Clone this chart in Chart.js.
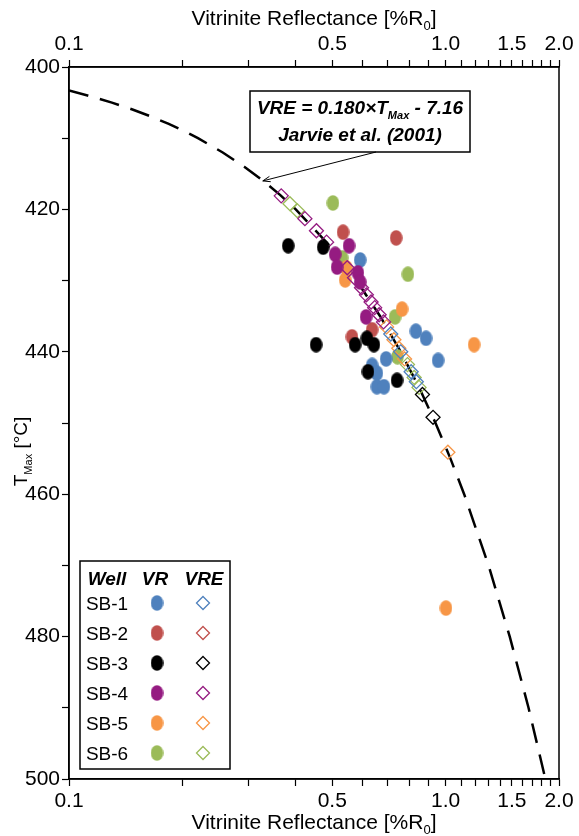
<!DOCTYPE html>
<html>
<head>
<meta charset="utf-8">
<script src="https://cdn.jsdelivr.net/npm/chart.js@4.4.1/dist/chart.umd.min.js"></script>
<style>
  html, body { margin: 0; padding: 0; background: #fff; }
  #wrap { position: relative; width: 579px; height: 836px; }
</style>
</head>
<body>
<div id="wrap"><canvas id="chart" width="579" height="836"></canvas></div>
<script>
'use strict'

// axis ticks
var xTicks = [0.1, 0.2, 0.3, 0.4, 0.5, 0.6, 0.7, 0.8, 0.9, 1.0, 1.1, 1.2, 1.3, 1.4, 1.5, 1.6, 1.7, 1.8, 1.9, 2.0]
var xLabelValues = [0.1, 0.5, 1.0, 1.5, 2.0]
var xLabels = ['0.1', '0.5', '1.0', '1.5', '2.0']
var yLabelValues = [400, 420, 440, 460, 480, 500]

var wells = ['SB-1', 'SB-2', 'SB-3', 'SB-4', 'SB-5', 'SB-6']
var wellColors = ['#4f81bd', '#c0504d', '#000000', '#951b81', '#f79646', '#9bbb59']

// measured vitrinite reflectance (VR) vs Tmax
var sb1Ro = [0.593, 0.834, 0.887, 0.955, 0.695, 0.638, 0.657, 0.657, 0.686]
var sb1Tmax = [427.1, 437.1, 438.1, 441.2, 441.0, 441.9, 443.0, 444.9, 444.9]
var sb2Ro = [0.534, 0.739, 0.564, 0.638]
var sb2Tmax = [423.2, 424.0, 437.9, 436.9]
var sb3Ro = [0.382, 0.473, 0.453, 0.575, 0.618, 0.645, 0.622, 0.743]
var sb3Tmax = [425.1, 425.3, 439.0, 439.0, 438.1, 439.0, 442.8, 444.0]
var sb4Ro = [0.554, 0.509, 0.515, 0.585, 0.593, 0.615]
var sb4Tmax = [425.1, 426.3, 428.1, 428.9, 430.2, 435.1]
var sb5Ro = [0.545, 0.541, 0.766, 1.19, 1.002]
var sb5Tmax = [428.2, 429.9, 434.0, 439.0, 476.0]
var sb6Ro = [0.502, 0.531, 0.794, 0.734, 0.745]
var sb6Tmax = [419.1, 426.8, 429.1, 435.1, 440.7]

// calculated VR equivalent (VRE) vs Tmax
var sb1VreRo = [0.715, 0.760, 0.810, 0.836]
var sb1VreTmax = [437.5, 440.0, 442.8, 444.2]
var sb2VreRo = []
var sb2VreTmax = []
var sb3VreRo = [0.868, 0.926]
var sb3VreTmax = [446.0, 449.2]
var sb4VreRo = [0.366, 0.423, 0.454, 0.483, 0.548, 0.573, 0.598, 0.616, 0.634, 0.648, 0.666, 0.684]
var sb4VreTmax = [418.1, 421.3, 423.0, 424.6, 428.2, 429.6, 431.0, 432.0, 433.0, 433.8, 434.8, 435.8]
var sb5VreRo = [0.697, 0.729, 0.751, 0.778, 1.014]
var sb5VreTmax = [436.5, 438.3, 439.5, 441.0, 454.1]
var sb6VreRo = [0.386, 0.404, 0.515, 0.792, 0.825, 0.850]
var sb6VreTmax = [419.2, 420.2, 426.4, 441.8, 443.6, 445.0]

// Jarvie et al. (2001) line
var curveRo = [0.10, 0.112, 0.13, 0.148, 0.166, 0.184, 0.202, 0.22, 0.256, 0.292, 0.328, 0.364, 0.40, 0.49, 0.58, 0.67, 0.76, 0.85, 0.94, 1.03, 1.12, 1.30, 1.48, 1.66, 1.84]
var curveTmax = [403.3, 404, 405, 406, 407, 408, 409, 410, 412, 414, 416, 418, 420, 425, 430, 435, 440, 445, 450, 455, 460, 470, 480, 490, 500]

var vrRo = [sb1Ro, sb2Ro, sb3Ro, sb4Ro, sb5Ro, sb6Ro]
var vrTmax = [sb1Tmax, sb2Tmax, sb3Tmax, sb4Tmax, sb5Tmax, sb6Tmax]
var vreRo = [sb1VreRo, sb2VreRo, sb3VreRo, sb4VreRo, sb5VreRo, sb6VreRo]
var vreTmax = [sb1VreTmax, sb2VreTmax, sb3VreTmax, sb4VreTmax, sb5VreTmax, sb6VreTmax]

var FONT = "'Liberation Sans', Arial, sans-serif"

function pts(xs, ys) {
  return xs.map(function (x, i) { return { x: x, y: ys[i] } })
}

// filled ellipse used as the VR marker
function ellipseImage(color) {
  var c = document.createElement('canvas')
  c.width = 13
  c.height = 16
  var g = c.getContext('2d')
  g.fillStyle = color
  g.beginPath()
  g.ellipse(6.5, 8, 6.3, 7.8, 0, 0, Math.PI * 2)
  g.fill()
  return c
}
var ellipses = wellColors.map(ellipseImage)

var datasets = []
// drawing: first dataset ends up on top
;[3, 2].forEach(function (i) {
  datasets.push({ label: wells[i] + ' VR', data: pts(vrRo[i], vrTmax[i]), pointStyle: ellipses[i], pointRadius: 8 })
})
;[0, 1, 2, 3, 4, 5].forEach(function (i) {
  datasets.push({
    label: wells[i] + ' VRE', data: pts(vreRo[i], vreTmax[i]),
    pointStyle: 'rectRot', pointRadius: 7, borderColor: wellColors[i],
    backgroundColor: 'rgba(0,0,0,0)', pointBorderWidth: 1.3, borderWidth: 1.3
  })
})
;[0, 1, 4, 5].forEach(function (i) {
  datasets.push({ label: wells[i] + ' VR', data: pts(vrRo[i], vrTmax[i]), pointStyle: ellipses[i], pointRadius: 8 })
})
datasets.push({
  label: 'Jarvie', data: pts(curveRo, curveTmax), showLine: true,
  borderColor: '#000', borderWidth: 2.5, borderDash: [20, 12], pointRadius: 0, tension: 0
})

function setXTicks(scale) {
  scale.ticks = xTicks.map(function (v) { return { value: v } })
}
function xLabel(value) {
  var k = xLabelValues.indexOf(Math.round(value * 10) / 10)
  return k >= 0 ? xLabels[k] : ''
}
function xScale(pos, h) {
  return {
    type: 'logarithmic', position: pos, min: 0.1, max: 2.0,
    afterBuildTicks: setXTicks,
    afterFit: function (s) { s.height = h },
    ticks: { callback: xLabel, autoSkip: false, maxRotation: 0, padding: 3, color: '#000', font: { family: FONT, size: 21 } },
    grid: { display: true, drawOnChartArea: false, drawTicks: true, tickLength: 7, tickColor: '#000', tickWidth: 1.2 },
    border: { display: true, color: '#000', width: 1.5 }
  }
}

// text with subscript parts, centered at x
function drawParts(ctx, parts, x, y, size, style) {
  var w = 0
  parts.forEach(function (p) {
    ctx.font = (style || '') + ' ' + (p.sub ? Math.round(size * 0.6) : size) + 'px ' + FONT
    p.w = ctx.measureText(p.t).width
    w += p.w
  })
  var cx = x - w / 2
  ctx.textBaseline = 'alphabetic'
  ctx.textAlign = 'left'
  parts.forEach(function (p) {
    ctx.font = (style || '') + ' ' + (p.sub ? Math.round(size * 0.6) : size) + 'px ' + FONT
    ctx.fillText(p.t, cx, p.sub ? y + size * 0.25 : y)
    cx += p.w
  })
}

function drawDiamond(ctx, x, y, r, color) {
  ctx.beginPath()
  ctx.moveTo(x, y - r)
  ctx.lineTo(x + r, y)
  ctx.lineTo(x, y + r)
  ctx.lineTo(x - r, y)
  ctx.closePath()
  ctx.strokeStyle = color
  ctx.lineWidth = 1.3
  ctx.stroke()
}

var decor = {
  id: 'decor',
  afterDraw: function (chart) {
    var ctx = chart.ctx
    var ca = chart.chartArea
    var sx = chart.scales.x
    var sy = chart.scales.y
    ctx.save()

    // frame
    ctx.strokeStyle = '#000'
    ctx.lineWidth = 1.5
    ctx.strokeRect(ca.left, ca.top, ca.right - ca.left, ca.bottom - ca.top)

    // axis titles
    ctx.fillStyle = '#000'
    var xt = [{ t: 'Vitrinite Reflectance [%R' }, { t: '0', sub: true }, { t: ']' }]
    var midX = (ca.left + ca.right) / 2
    drawParts(ctx, xt, midX, 25, 21)
    drawParts(ctx, xt, midX, 829, 21)
    ctx.save()
    ctx.translate(27, sy.getPixelForValue(454))
    ctx.rotate(-Math.PI / 2)
    drawParts(ctx, [{ t: 'T' }, { t: 'Max', sub: true }, { t: ' [°C]' }], 0, 0, 19)
    ctx.restore()

    // annotation box + arrow
    var bx = ca.left + 181, by = ca.top + 24, bw = 220, bh = 61
    ctx.fillStyle = '#fff'
    ctx.fillRect(bx, by, bw, bh)
    ctx.lineWidth = 1.5
    ctx.strokeRect(bx, by, bw, bh)
    ctx.fillStyle = '#000'
    drawParts(ctx, [{ t: 'VRE = 0.180×T' }, { t: 'Max', sub: true }, { t: ' - 7.16' }], bx + bw / 2, by + 23, 19, 'italic bold')
    drawParts(ctx, [{ t: 'Jarvie et al. (2001)' }], bx + bw / 2, by + 50, 19, 'italic bold')

    var tx = sx.getPixelForValue(0.327), ty = sy.getPixelForValue(416.0)
    var fx = bx + 126, fy = by + bh
    var ang = Math.atan2(fy - ty, fx - tx)
    ctx.lineWidth = 1
    ctx.beginPath()
    ctx.moveTo(fx, fy)
    ctx.lineTo(tx, ty)
    ctx.moveTo(tx + 8 * Math.cos(ang - 0.35), ty + 8 * Math.sin(ang - 0.35))
    ctx.lineTo(tx, ty)
    ctx.lineTo(tx + 8 * Math.cos(ang + 0.35), ty + 8 * Math.sin(ang + 0.35))
    ctx.stroke()

    // legend
    var lx = ca.left + 11, ly = ca.bottom - 218, lw = 150, lh = 208
    ctx.fillStyle = '#fff'
    ctx.fillRect(lx, ly, lw, lh)
    ctx.lineWidth = 1.5
    ctx.strokeRect(lx, ly, lw, lh)
    ctx.fillStyle = '#000'
    drawParts(ctx, [{ t: 'Well' }], lx + 27, ly + 24, 19, 'italic bold')
    drawParts(ctx, [{ t: 'VR' }], lx + 75, ly + 24, 19, 'italic bold')
    drawParts(ctx, [{ t: 'VRE' }], lx + 124, ly + 24, 19, 'italic bold')
    wells.forEach(function (w, i) {
      var ry = ly + 42 + i * 30
      ctx.fillStyle = '#000'
      drawParts(ctx, [{ t: w }], lx + 27, ry + 7, 19)
      ctx.drawImage(ellipses[i], lx + 77 - 6.5, ry - 8)
      drawDiamond(ctx, lx + 123, ry, 6.5, wellColors[i])
    })
    ctx.restore()
  }
}

new Chart(document.getElementById('chart'), {
  type: 'scatter',
  data: { datasets: datasets },
  options: {
    responsive: false,
    animation: false,
    layout: { padding: { left: 0, right: 20, top: 0, bottom: 0 } },
    plugins: { legend: { display: false }, tooltip: { enabled: false } },
    scales: {
      x: xScale('bottom', 57),
      x2: xScale('top', 67),
      y: {
        type: 'linear', reverse: true, min: 400, max: 500,
        afterFit: function (s) { s.width = 69 },
        ticks: {
          stepSize: 10, padding: 2, color: '#000', font: { family: FONT, size: 21 },
          callback: function (v) { return yLabelValues.indexOf(v) >= 0 ? String(v) : '' }
        },
        grid: { display: true, drawOnChartArea: false, drawTicks: true, tickLength: 7, tickColor: '#000', tickWidth: 1.2 },
        border: { display: true, color: '#000', width: 1.5 }
      }
    }
  },
  plugins: [decor]
})
</script>
</body>
</html>
